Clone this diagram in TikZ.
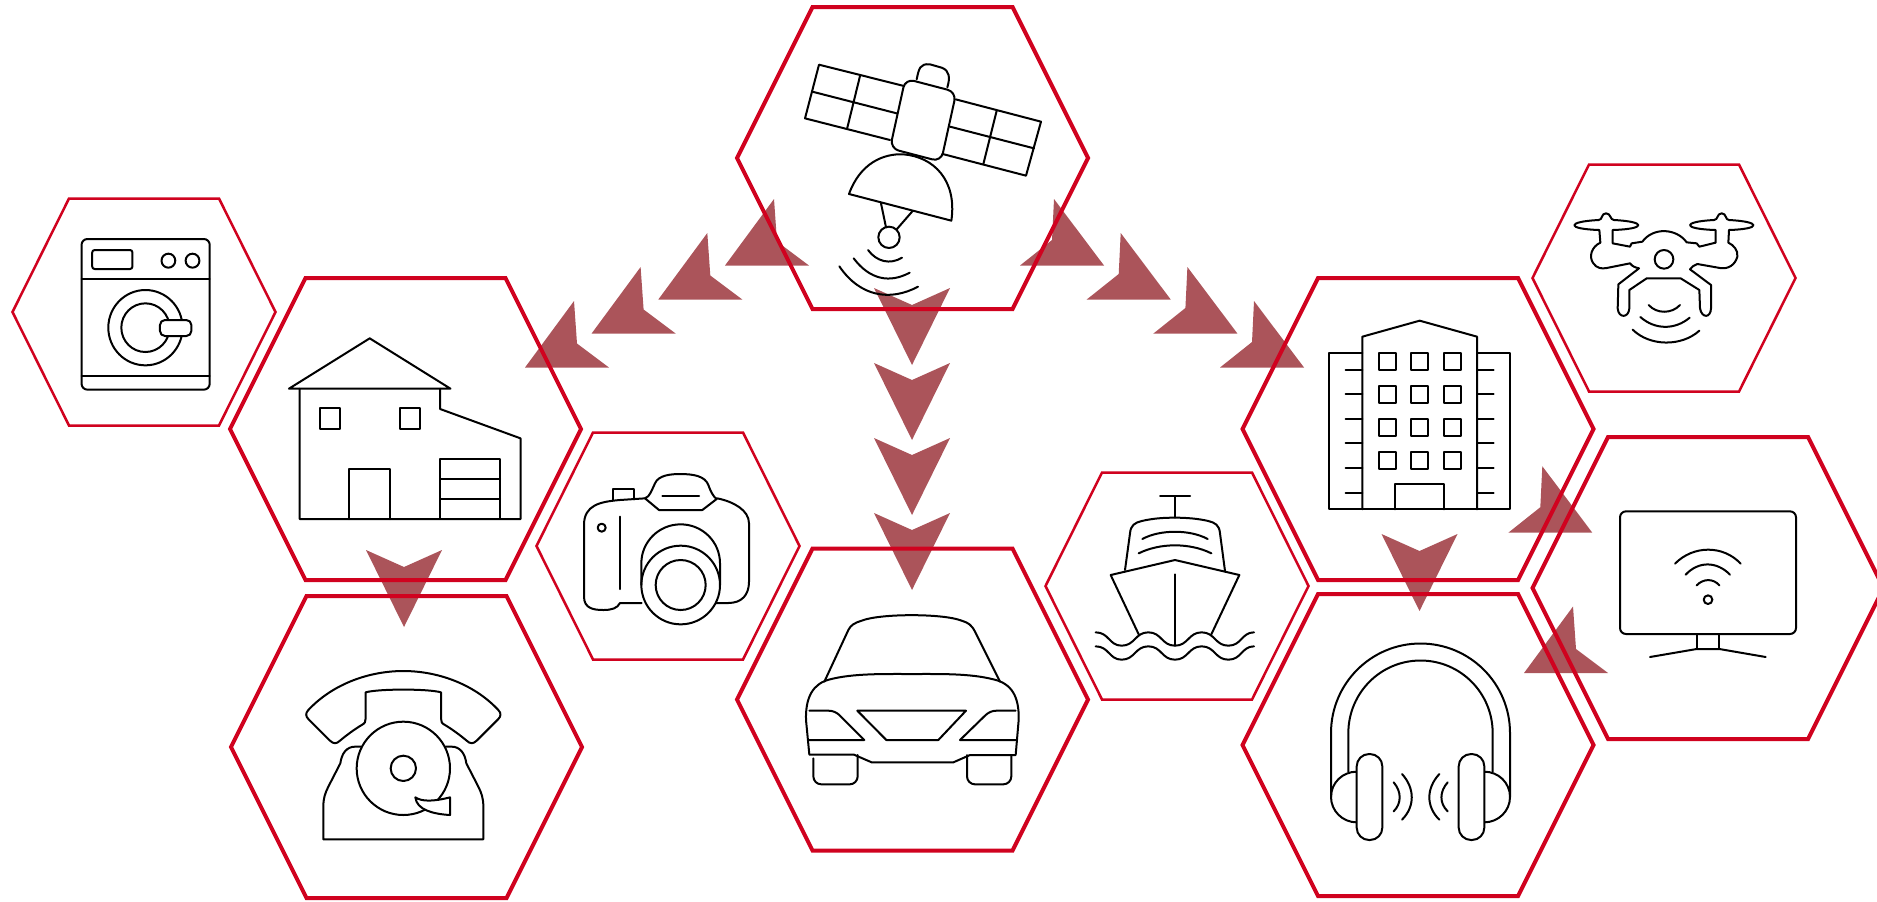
\documentclass[tikz,border=0pt]{standalone}
\definecolor{hexred}{HTML}{D0021F}
\definecolor{chevcol}{HTML}{AB545A}
\tikzset{
  hexthick/.style={draw=hexred,line width=2pt,line join=miter},
  hexthin/.style={draw=hexred,line width=1.25pt,line join=miter},
  chevron/.style={fill=chevcol,draw=none},
  icon/.style={draw=black,line width=1pt,line join=round,line cap=round},
  z3/.style={shift={(#1)},xscale=1/3,yscale=1/3},
  z2/.style={shift={(#1)},xscale=1/2.613,yscale=1/3}
}
\newcommand{\hexbig}[3]{\coordinate (#1) at (#2,#3);
  \draw[hexthick,shift={(#2,#3)}] (-175.5,0)--(-100,-151)--(100,-151)--(175.5,0)--(100,151)--(-100,151)--cycle;}
\newcommand{\hexsmall}[3]{\coordinate (#1) at (#2,#3);
  \draw[hexthin,shift={(#2,#3)}] (-131.5,0)--(-75,-113.5)--(75,-113.5)--(131.5,0)--(75,113.5)--(-75,113.5)--cycle;}
\newcommand{\chevdown}[2]{\fill[chevron,shift={(#1,#2)}] (-38,0)--(0,17)--(38,0)--(0,77)--cycle;}
\newcommand{\chevleft}[2]{\fill[chevron,shift={(#1,#2)}] (0,0)--(49,-66.5)--(52,-24)--(84,0)--cycle;}
\newcommand{\chevright}[2]{\fill[chevron,shift={(#1,#2)}] (0,0)--(-50,-66.5)--(-52,-25.5)--(-84,0)--cycle;}
\begin{document}
\begin{tikzpicture}[x=0.5pt,y=-0.5pt]
\path[use as bounding box,clip] (0,0) rectangle (1877,901);
% chevrons
\chevdown{912}{288}\chevdown{912}{363}\chevdown{912}{438}\chevdown{912}{513}
\chevdown{404}{550}\chevdown{1419.5}{534}
\chevleft{725}{265.5}\chevleft{658.3}{299.5}\chevleft{591.6}{333.5}\chevleft{525}{367.5}
\chevright{1104}{265.5}\chevright{1170.7}{299.5}\chevright{1237.4}{333.5}\chevright{1304}{367.5}
\chevright{1592.3}{532.7}
\chevleft{1524}{673}
% hexagons
\hexbig{satellite}{912.5}{158}
\hexbig{house}{405.5}{429}
\hexbig{phone}{406.5}{747}
\hexbig{car}{912.5}{699.5}
\hexbig{building}{1418}{429}
\hexbig{headphones}{1418}{745}
\hexbig{tv}{1708}{588}
\hexsmall{washer}{144}{312}
\hexsmall{camera}{668}{546}
\hexsmall{ship}{1177}{586}
\hexsmall{drone}{1664}{278}
% satellite
\begin{scope}[z3={720,0},icon]
\draw[icon] (552,258)--(297,194)--(255,355)--(510,420);
\draw[icon] (277,275)--(530,340) (420,228)--(381,387);
\draw[icon] (707,298)--(963,365)--(918,527)--(668,462);
\draw[icon] (690,380)--(942,445) (830,332)--(790,492);
\draw[icon] (590,238) .. controls (597,205) and (600,190) .. (630,193) -- (665,203) .. controls (690,212) and (690,235) .. (682,262);
\draw[icon,rounded corners=4.5pt] (556,236)--(709,276)--(663,485)--(510,445)--cycle;
\draw[icon] (387,582) .. controls (420,490) and (490,460) .. (550,463) .. controls (640,470) and (712,540) .. (694,662) -- cycle;
\draw[icon] (483,610)--(498,682) (577,634)--(530,688);
\draw[icon] (507,712) circle [x radius=32,y radius=32];
\draw[icon] (444,750) .. controls (470,785) and (510,795) .. (546,773);
\draw[icon] (401,775) .. controls (450,840) and (510,850) .. (569,818);
\draw[icon] (358,799) .. controls (420,890) and (510,905) .. (594,860);
\end{scope}
% house
\begin{scope}[z2={0,190}]
\draw[icon] (755,596)--(966,445)--(1177,596)--cycle;
\draw[icon] (783,596)--(783,987)--(1360,987)--(1360,745)--(1150,657)--(1150,596);
\draw[icon] (835,655) rectangle (888,717);
\draw[icon] (1044,655) rectangle (1098,717);
\draw[icon] (913,987)--(913,836)--(1018,836)--(1018,987);
\draw[icon] (1150,806) rectangle (1307,987);
\draw[icon] (1150,866)--(1307,866) (1150,927)--(1307,927);
% washer
\draw[icon,rounded corners=3pt] (213,147) rectangle (548,599);
\draw[icon] (213,268)--(548,268) (213,558)--(548,558);
\draw[icon,rounded corners=1.2pt] (241,180) rectangle (346,237);
\draw[icon] (440,212) circle [x radius=18,y radius=21];
\draw[icon] (503,212) circle [x radius=18,y radius=21];
\draw[icon] (380,413) circle [x radius=97,y radius=113];
\draw[icon] (380,413) circle [x radius=63,y radius=73];
\draw[icon,fill=white,rounded corners=2.5pt] (418,390) rectangle (500,438);
\end{scope}
% phone
\begin{scope}[z3={230,590}]
\draw[icon] (235,360) .. controls (310,280) and (420,243) .. (520,243) .. controls (620,243) and (730,280) .. (805,360) .. controls (815,370) and (812,380) .. (805,387) -- (740,452) .. controls (730,462) and (720,462) .. (710,452) .. controls (690,435) and (665,417) .. (645,405) .. controls (635,400) and (633,395) .. (633,385) -- (633,307) .. controls (595,296) and (445,296) .. (407,307) -- (407,385) .. controls (407,395) and (405,400) .. (395,405) .. controls (375,417) and (350,435) .. (330,452) .. controls (320,462) and (310,462) .. (300,452) -- (235,387) .. controls (228,380) and (225,370) .. (235,360) -- cycle;
\draw[icon] (393,470) -- (375,470) .. controls (350,470) and (335,490) .. (331,520) -- (295,590) .. controls (285,610) and (280,625) .. (280,650) -- (280,748) -- (760,748) -- (760,650) .. controls (760,625) and (755,610) .. (745,590) -- (709,520) .. controls (705,490) and (690,470) .. (665,470) -- (647,470);
\draw[icon] (520,535) circle [x radius=140,y radius=140];
\draw[icon] (520,535) circle [x radius=38,y radius=38];
\draw[icon,fill=white] (556,622) .. controls (575,635) and (610,635) .. (660,622) -- (660,675) .. controls (610,672) and (560,660) .. (556,622) -- cycle;
\end{scope}
% camera
\begin{scope}[z3={540,430}]
\draw[icon] (315,205) -- (240,210) .. controls (180,215) and (132,225) .. (132,285) -- (132,500) .. controls (132,535) and (160,540) .. (190,540) .. controls (215,540) and (232,535) .. (240,519) -- (305,519);
\draw[icon] (528,519) -- (565,519) .. controls (605,519) and (627,495) .. (627,455) -- (627,280) .. controls (627,240) and (580,215) .. (532,205);
\draw[icon] (315,205) .. controls (330,200) and (335,180) .. (345,160) .. controls (355,135) and (395,132) .. (420,132) .. controls (460,132) and (495,138) .. (505,165) .. controls (512,185) and (520,200) .. (530,207) -- (487,240) -- (357,240) -- cycle;
\draw[icon] (367,197)--(477,197);
\draw[icon] (218,211)--(218,176)--(283,176)--(283,208);
\draw[icon] (185,293) circle [x radius=12,y radius=12];
\draw[icon] (239,260)--(239,477);
\draw[icon] (304,465)--(304,400) .. controls (304,335) and (357,283) .. (422,283) .. controls (487,283) and (540,335) .. (540,400) -- (540,465);
\draw[icon] (422,465) circle [x radius=118,y radius=118];
\draw[icon] (422,465) circle [x radius=75,y radius=75];
\end{scope}
% car
\begin{scope}[z3={780,620}]
\draw[icon] (133,185) -- (205,30) .. controls (212,15) and (225,8) .. (245,2) .. controls (300,-20) and (490,-20) .. (545,2) .. controls (565,8) and (575,15) .. (585,35) -- (660,185);
\draw[icon] (78,300) .. controls (76,230) and (100,190) .. (150,178) .. controls (220,160) and (310,162) .. (396,162) .. controls (480,162) and (570,160) .. (640,178) .. controls (695,190) and (718,230) .. (716,300) -- (707,405) -- (570,405) -- (520,427) -- (275,427) -- (222,404) -- (88,404) -- cycle;
\draw[icon,rounded corners=4pt] (100,415)--(100,493)--(233,493)--(233,405);
\draw[icon,rounded corners=4pt] (561,405)--(561,493)--(694,493)--(694,405);
\draw[icon] (88,272) -- (145,272) .. controls (160,272) and (170,278) .. (178,285) -- (253,360) -- (88,360);
\draw[icon] (707,272) -- (650,272) .. controls (635,272) and (625,278) .. (617,285) -- (540,360) -- (707,360);
\draw[icon] (232,272)--(558,272)--(475,360)--(319,360)--cycle;
\end{scope}
% ship
\begin{scope}[z3={1060,470}]
\draw[icon] (300,78)--(390,78) (345,78)--(345,143);
\draw[icon] (195,300) -- (210,190) .. controls (212,165) and (225,158) .. (245,153) .. controls (280,145) and (310,143) .. (345,143) .. controls (380,143) and (415,146) .. (445,153) .. controls (465,158) and (478,165) .. (480,190) -- (495,303);
\draw[icon] (237,495)--(152,315)--(345,270)--(538,315)--(453,495);
\draw[icon] (345,313)--(345,527);
\draw[icon] (247,207) .. controls (300,178) and (390,178) .. (443,207);
\draw[icon] (236,250) .. controls (300,218) and (390,218) .. (454,250);
\foreach \yy in {0,42}{
\draw[icon,shift={(0,\yy)}] (107,487) .. controls (147,487) and (147,527) .. (185,527) .. controls (225,527) and (225,487) .. (265,487) .. controls (305,487) and (305,527) .. (345,527) .. controls (385,527) and (385,487) .. (425,487) .. controls (465,487) and (465,527) .. (505,527) .. controls (545,527) and (545,487) .. (582,487);
}
\end{scope}
% building
\begin{scope}[z3={1290,290}]
\draw[icon] (217,658)--(217,140)--(389,92)--(561,140)--(561,658);
\draw[icon] (217,189)--(118,189)--(118,658)--(660,658)--(660,189)--(561,189);
\foreach \wx in {266,364,462}{\foreach \wy in {189,288,386,485}{
\draw[icon] (\wx,\wy) rectangle ++(51,51);
}}
\draw[icon] (315,658)--(315,583)--(463,583)--(463,658);
\foreach \ty in {239,313,386,460,534,608}{
\draw[icon] (167,\ty)--(217,\ty) (561,\ty)--(611,\ty);
}
\end{scope}
% drone
\begin{scope}[z3={1540,160}]
\draw[icon] (178,210) -- (181,248) .. controls (155,260) and (145,290) .. (160,310) .. controls (170,325) and (185,327) .. (200,324) -- (270,310) .. controls (278,320) and (285,322) .. (297,325) -- (235,373) -- (233,445) .. controls (235,475) and (266,475) .. (268,445) -- (268,390) -- (320,355) -- (422,355) -- (478,390) -- (480,445) .. controls (485,475) and (512,475) .. (513,445) -- (513,375) -- (450,328) .. controls (455,320) and (462,316) .. (472,312) -- (540,324) .. controls (565,328) and (585,315) .. (592,290) .. controls (595,270) and (580,255) .. (565,248) -- (567,210) .. controls (665,207) and (665,185) .. (567,180) .. controls (555,180) and (560,160) .. (545,160) .. controls (530,160) and (535,180) .. (522,180) .. controls (425,185) and (425,207) .. (527,210) -- (527,248) -- (478,260) -- (470,250) -- (440,247) .. controls (410,205) and (340,200) .. (307,245) -- (275,250) -- (270,260) -- (218,250) -- (218,210) .. controls (320,207) and (320,185) .. (222,180) .. controls (210,180) and (213,160) .. (198,160) .. controls (183,160) and (188,180) .. (176,180) .. controls (78,185) and (78,207) .. (178,210) -- cycle;
\draw[icon] (372,298) circle [x radius=28,y radius=28];
\draw[icon] (326,435) .. controls (350,462) and (395,462) .. (420,435);
\draw[icon] (301,471) .. controls (345,510) and (405,510) .. (449,473);
\draw[icon] (278,509) .. controls (330,560) and (425,560) .. (478,512);
\end{scope}
% headphones
\begin{scope}[z3={1300,720}]
\draw[icon] (93,230)--(93,39) .. controls (93,-109.3) and (213.2,-229.5) .. (361.5,-229.5) .. controls (509.8,-229.5) and (630,-109.3) .. (630,39) -- (630,230);
\draw[icon] (145,155)--(145,39) .. controls (145,-81) and (241.5,-178.5) .. (361.5,-178.5) .. controls (481.5,-178.5) and (578,-81) .. (578,39) -- (578,155);
\draw[icon] (170,155) .. controls (128,155) and (93,188) .. (93,231) .. controls (93,273) and (128,307) .. (170,307);
\draw[icon] (553,155) .. controls (595,155) and (630,188) .. (630,231) .. controls (630,273) and (595,307) .. (553,307);
\draw[icon,fill=white,rounded corners=6.2pt] (170,102) rectangle (247,360);
\draw[icon,fill=white,rounded corners=6.2pt] (476,102) rectangle (553,360);
\draw[icon] (281,187) .. controls (305,215) and (305,250) .. (281,274);
\draw[icon] (306,162) .. controls (345,205) and (345,260) .. (306,299);
\draw[icon] (443,187) .. controls (418,215) and (418,250) .. (443,274);
\draw[icon] (418,162) .. controls (378,205) and (378,260) .. (418,299);
\end{scope}
% tv
\begin{scope}[z3={1500,450}]
\draw[icon,rounded corners=3pt] (360,184) rectangle (888,552);
\draw[icon] (590,552)--(590,597)--(658,597)--(658,552);
\draw[icon] (450,621)--(590,597)--(658,597)--(797,621);
\draw[icon] (525,341) .. controls (580,285) and (670,285) .. (722,341);
\draw[icon] (557,374) .. controls (595,333) and (650,333) .. (690,374);
\draw[icon] (590,406) .. controls (610,385) and (640,385) .. (658,406);
\draw[icon] (624,449) circle [x radius=13,y radius=13];
\end{scope}
\end{tikzpicture}
\end{document}
